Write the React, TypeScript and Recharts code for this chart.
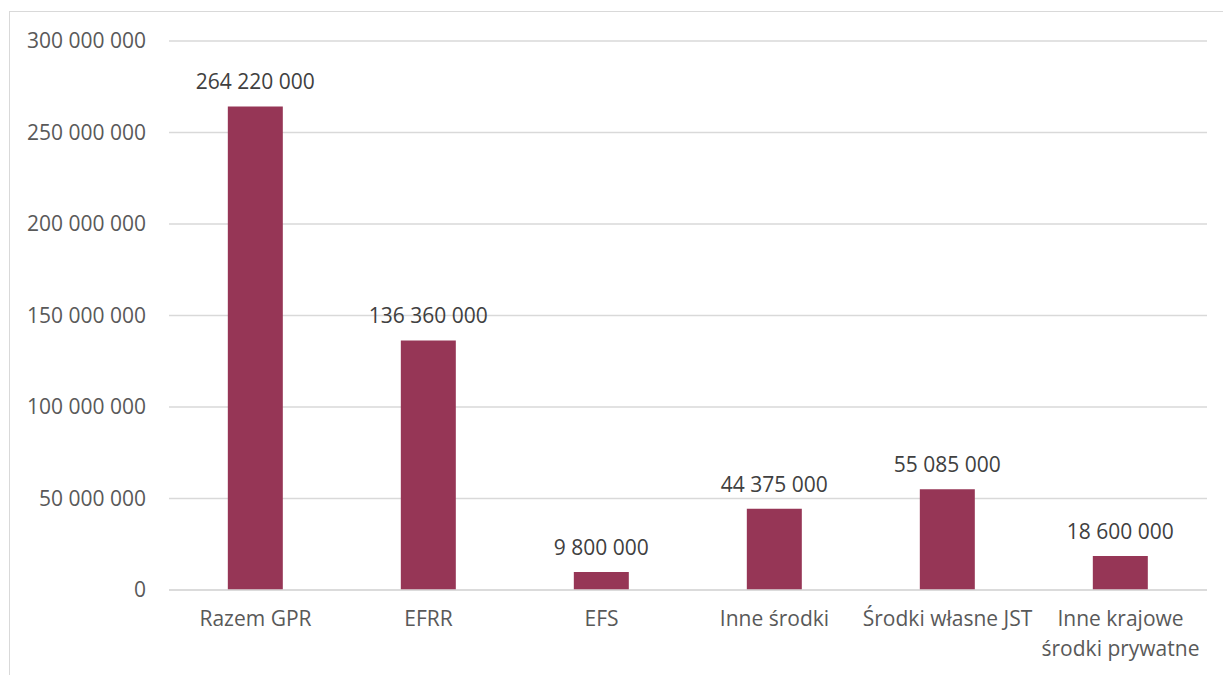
import { BarChart, Bar, XAxis, YAxis, CartesianGrid, LabelList } from "recharts";

const categories = [
  "Razem GPR",
  "EFRR",
  "EFS",
  "Inne środki",
  "Środki własne JST",
  "Inne krajowe środki prywatne",
];
const amounts = [264220000, 136360000, 9800000, 44375000, 55085000, 18600000];
const yTicks = [0, 50000000, 100000000, 150000000, 200000000, 250000000, 300000000];

const data = categories.map((name, i) => ({ name, value: amounts[i] }));

const fmt = (v: number) =>
  String(Math.round(v)).replace(/\B(?=(\d{3})+(?!\d))/g, " ");

const FONT = "'Open Sans', 'Noto Sans', sans-serif";

// greedy wrap by character count, roughly what fits under one bar
function wrap(label: string, maxChars = 17) {
  const lines: string[] = [];
  let cur = "";
  for (const w of label.split(" ")) {
    const next = cur ? cur + " " + w : w;
    if (next.length > maxChars && cur) {
      lines.push(cur);
      cur = w;
    } else {
      cur = next;
    }
  }
  if (cur) lines.push(cur);
  return lines;
}

function CategoryTick(props: any) {
  const { x, y, payload } = props;
  const lines = wrap(String(payload.value));
  return (
    <text
      x={x}
      y={y}
      textAnchor="middle"
      fill="#595959"
      fontSize={21}
      fontFamily={FONT}
    >
      {lines.map((l, i) => (
        <tspan key={i} x={x} dy={i === 0 ? "0.71em" : 30}>
          {l}
        </tspan>
      ))}
    </text>
  );
}

function ValueLabel(props: any) {
  const { x, y, width, value } = props;
  return (
    <text
      x={x + width / 2}
      y={y - 17}
      textAnchor="middle"
      fill="#404040"
      fontSize={21}
      fontFamily={FONT}
    >
      {fmt(Number(value))}
    </text>
  );
}

export default function App() {
  return (
    <div
      style={{
        position: "fixed",
        left: 0,
        top: 0,
        width: 1223,
        height: 675,
        background: "#fff",
        overflow: "hidden",
      }}
    >
      <div
        style={{
          position: "absolute",
          left: 9,
          top: 11,
          width: 1300,
          height: 800,
          border: "1px solid #d9d9d9",
        }}
      />
      <div style={{ position: "absolute", left: 0, top: 0 }}>
        <BarChart
          width={1223}
          height={675}
          data={data}
          margin={{ top: 41, right: 16, bottom: 0, left: 9 }}
          barCategoryGap="34%"
        >
          <CartesianGrid vertical={false} stroke="#d9d9d9" strokeWidth={1.5} />
          <XAxis
            dataKey="name"
            height={85}
            axisLine={{ stroke: "#d9d9d9", strokeWidth: 1.5 }}
            tickLine={false}
            tick={<CategoryTick />}
            tickMargin={15}
            interval={0}
          />
          <YAxis
            width={160}
            domain={[0, 300000000]}
            ticks={yTicks}
            tickFormatter={fmt}
            axisLine={false}
            tickLine={false}
            tickMargin={17}
            tick={{ fill: "#595959", fontSize: 21, fontFamily: FONT }}
          />
          <Bar dataKey="value" fill="#963656" isAnimationActive={false}>
            <LabelList dataKey="value" content={<ValueLabel />} />
          </Bar>
        </BarChart>
      </div>
    </div>
  );
}
